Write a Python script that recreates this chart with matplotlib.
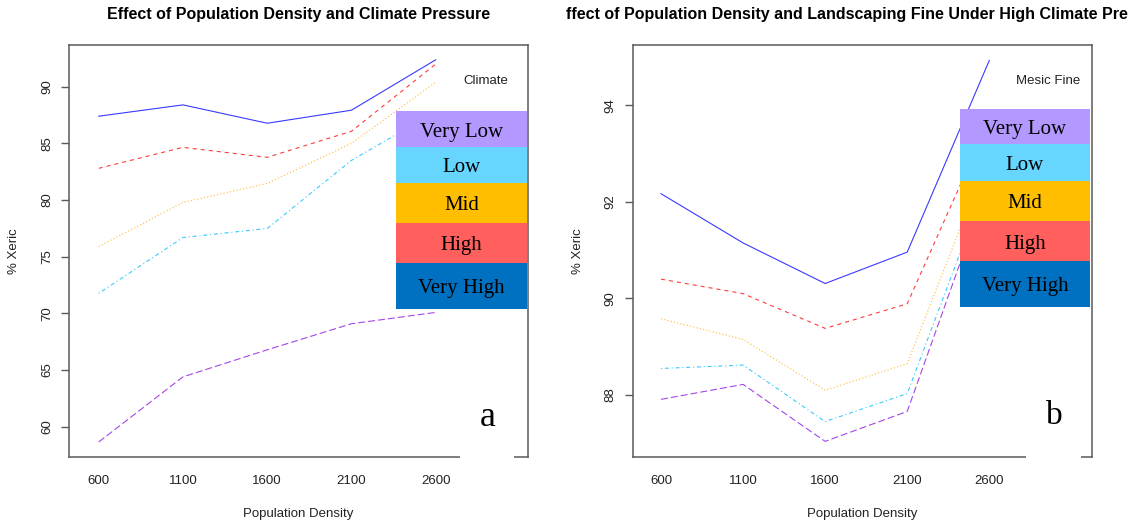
import matplotlib
matplotlib.use('Agg')
import matplotlib.pyplot as plt
from matplotlib.patches import Rectangle

# ---------------- data ----------------
density = [600, 1100, 1600, 2100, 2600]
density_labels = ["600", "1100", "1600", "2100", "2600"]
legend_levels = ["Very Low", "Low", "Mid", "High", "Very High"]

# Panel a: climate pressure
a_very_high = [87.40, 88.40, 86.78, 87.93, 92.38]
a_high = [82.80, 84.65, 83.77, 86.07, 92.00]
a_mid = [75.89, 79.79, 81.47, 85.00, 90.40]
a_low = [71.76, 76.69, 77.49, 83.50, 87.80]
a_very_low = [58.64, 64.39, 66.78, 69.08, 70.08]

# Panel b: mesic landscaping fine (high climate pressure)
b_very_high = [92.17, 91.15, 90.31, 90.96, 94.93]
b_high = [90.40, 90.10, 89.38, 89.89, 93.70]
b_mid = [89.58, 89.15, 88.10, 88.65, 93.00]
b_low = [88.55, 88.62, 87.45, 88.03, 92.55]
b_very_low = [87.91, 88.22, 87.04, 87.66, 92.43]

a_yticks = [60, 65, 70, 75, 80, 85, 90]
b_yticks = [88, 90, 92, 94]

title_a = "Effect of Population Density and Climate Pressure"
# the reference image shows this title cropped at both ends
title_b_visible = "ffect of Population Density and Landscaping Fine Under High Climate Pre"

# ---------------- style ----------------
plt.rcParams['font.family'] = ['Liberation Sans', 'DejaVu Sans']
plt.rcParams['lines.scale_dashes'] = False

W, H = 1131, 524
fig = plt.figure(figsize=(W / 100, H / 100), dpi=100)


def fx(px):
    return px / W


def fy(py):
    return 1 - py / H


def axes_px(l, t, r, b):
    return fig.add_axes([fx(l), fy(b), (r - l) / W, (b - t) / H])


line_colors = ['#3a3aff', '#ff3a3a', '#ffb83a', '#3acbff', '#a447e6']
line_styles = ['-', (0, (2.9, 2.9)), (0, (0.8, 1.6)), (0, (0.8, 2.0, 2.9, 2.0)), (0, (5.0, 2.2))]
legend_colors = ['#b399ff', '#66d6ff', '#ffbf00', '#ff605e', '#0070c0']
spine_col = '#5a5a5a'
text_col = '#222222'


def style_axes(ax, xlim, ylim, yticks):
    ax.set_xlim(*xlim)
    ax.set_ylim(*ylim)
    for s in ax.spines.values():
        s.set_color(spine_col)
        s.set_linewidth(1.1)
    ax.set_xticks(density)
    ax.set_xticklabels(density_labels)
    ax.tick_params(axis='x', length=0, pad=13, labelsize=9.5, labelcolor=text_col)
    ax.set_yticks(yticks)
    ax.set_yticklabels([str(v) for v in yticks], rotation=90, va='center')
    ax.tick_params(axis='y', length=5.8, width=1, color=spine_col, pad=6,
                   labelsize=9.5, labelcolor=text_col)


def draw_series(ax, series):
    for vals, c, ls in zip(series, line_colors, line_styles):
        ax.plot(density, vals, color=c, linestyle=ls, linewidth=0.8, zorder=2)


def draw_legend(x0, x1, row_edges, title, title_xy):
    for i, lab in enumerate(legend_levels):
        t, b = row_edges[i], row_edges[i + 1]
        fig.add_artist(Rectangle((fx(x0), fy(b)), (x1 - x0) / W, (b - t) / H,
                                 transform=fig.transFigure, facecolor=legend_colors[i],
                                 edgecolor='none', zorder=5))
        fig.text(fx((x0 + x1) / 2), fy((t + b) / 2 + 3), lab, ha='center', va='center',
                 family=['Liberation Serif'], fontsize=15, color='black', zorder=6)
    fig.text(fx(title_xy[0]), fy(title_xy[1]), title, ha='center', va='center',
             fontsize=9.5, color=text_col, zorder=6)


def white_box(x0, x1, t, b):
    fig.add_artist(Rectangle((fx(x0), fy(b)), (x1 - x0) / W, (b - t) / H,
                             transform=fig.transFigure, facecolor='white',
                             edgecolor='none', zorder=5))


# ---------------- panel a ----------------
ax1 = axes_px(69.3, 44.5, 527.7, 457.3)
draw_series(ax1, [a_very_high, a_high, a_mid, a_low, a_very_low])
style_axes(ax1, (425.5, 3146), (57.29, 93.73), a_yticks)
fig.text(fx(298.5), fy(514), "Population Density", ha='center', va='center',
         fontsize=9.5, color=text_col)
fig.text(fx(14), fy(251), "% Xeric", ha='center', va='center', rotation=90,
         fontsize=9.5, color=text_col)
fig.text(fx(298.5), fy(15), title_a, ha='center', va='center', fontsize=11.5,
         fontweight='bold', color='black')
draw_legend(396, 527.3, [111, 147, 183, 223, 262.7, 308.7], "Climate", (485.7, 81))
white_box(460, 514.3, 390, 462)
fig.text(fx(488), fy(418), "a", ha='center', va='center', family=['Liberation Serif'],
         fontsize=26, color='black', zorder=7)

# ---------------- panel b ----------------
ax2 = axes_px(633, 45, 1092.3, 457.3)
draw_series(ax2, [b_very_high, b_high, b_mid, b_low, b_very_low])
style_axes(ax2, (429.4, 3227.5), (86.71, 95.25), b_yticks)
fig.text(fx(862.6), fy(514), "Population Density", ha='center', va='center',
         fontsize=9.5, color=text_col)
fig.text(fx(578), fy(251), "% Xeric", ha='center', va='center', rotation=90,
         fontsize=9.5, color=text_col)
fig.text(fx(566), fy(15), title_b_visible, ha='left', va='center', fontsize=11.5,
         fontweight='bold', color='black')
draw_legend(960, 1090, [109, 144, 181, 221, 261, 306.7], "Mesic Fine", (1048, 81))
white_box(1026, 1081, 390, 462)
fig.text(fx(1054), fy(416), "b", ha='center', va='center', family=['Liberation Serif'],
         fontsize=24, color='black', zorder=7)

fig.savefig('out.png', dpi=100)
